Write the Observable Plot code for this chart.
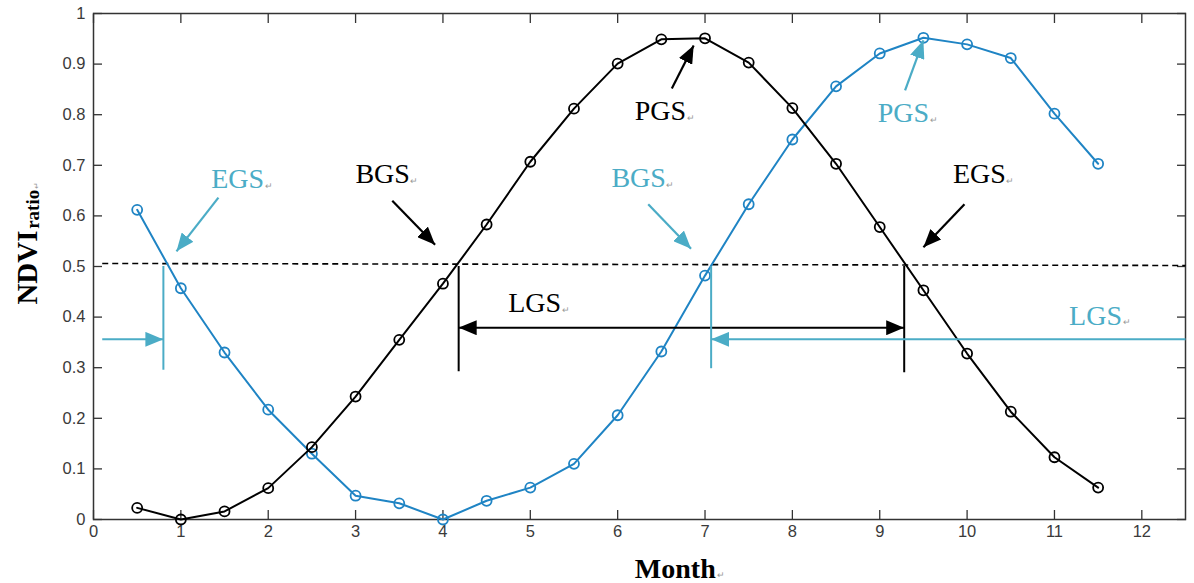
<!DOCTYPE html>
<html>
<head>
<meta charset="utf-8">
<script src="https://cdn.jsdelivr.net/npm/d3@7"></script>
<script src="https://cdn.jsdelivr.net/npm/@observablehq/plot@0.6"></script>
<style>
  html, body { margin: 0; padding: 0; background: #fff; }
  #chart svg { display: block; }
</style>
</head>
<body>
<div id="chart"></div>
<script>
// ---- data ----
const months = [0.5, 1, 1.5, 2, 2.5, 3, 3.5, 4, 4.5, 5, 5.5, 6, 6.5, 7, 7.5, 8, 8.5, 9, 9.5, 10, 10.5, 11, 11.5];
const ndviBlack = [0.023, 0.0, 0.016, 0.062, 0.143, 0.243, 0.355, 0.466, 0.583, 0.707, 0.812, 0.901, 0.949, 0.951, 0.903, 0.813, 0.703, 0.578, 0.453, 0.328, 0.213, 0.123, 0.063];
const ndviBlue  = [0.612, 0.457, 0.330, 0.217, 0.130, 0.047, 0.032, 0.0, 0.037, 0.063, 0.110, 0.206, 0.332, 0.482, 0.623, 0.751, 0.856, 0.921, 0.952, 0.939, 0.912, 0.802, 0.703];

const xTicks = [0, 1, 2, 3, 4, 5, 6, 7, 8, 9, 10, 11, 12];
const yTicks = [0, 0.1, 0.2, 0.3, 0.4, 0.5, 0.6, 0.7, 0.8, 0.9, 1];
const yTickLabels = ["0", "0.1", "0.2", "0.3", "0.4", "0.5", "0.6", "0.7", "0.8", "0.9", "1"];

// threshold (dashed) line
const threshold = [{x1: 0.1, y1: 0.506, x2: 12.5, y2: 0.502}];

// annotation labels (group: "a" = black curve, "b" = blue curve)
const labelText  = ["EGS", "BGS", "PGS", "LGS", "BGS", "EGS", "PGS", "LGS"];
const labelGroup = ["b",   "a",   "a",   "a",   "b",   "a",   "b",   "b"];
const labelX     = [1.65,  3.31,  6.49,  5.05,  6.24,  10.14, 9.27,  11.47];
const labelY     = [0.672, 0.682, 0.808, 0.427, 0.674, 0.682, 0.804, 0.403];

// pointer arrows (from -> to)
const arrowGroup = ["b",  "a",  "b",  "a",  "a",  "b"];
const arrowX1    = [1.43, 3.42, 6.35, 9.97, 6.62, 9.29];
const arrowY1    = [0.636, 0.630, 0.623, 0.623, 0.852, 0.848];
const arrowX2    = [0.95, 3.91, 6.84, 9.50, 6.87, 9.50];
const arrowY2    = [0.530, 0.543, 0.535, 0.538, 0.937, 0.947];

// growing-season markers (vertical lines)
const markGroup = ["b",  "a",  "b",  "a"];
const markX     = [0.80, 4.18, 7.07, 9.28];
const markTop   = [0.50, 0.50, 0.50, 0.50];
const markBot   = [0.295, 0.292, 0.298, 0.290];

// length-of-season arrows
const lgsGroup = ["a",  "b",  "b"];
const lgsX1    = [4.18, 12.5, 0.1];
const lgsX2    = [9.28, 7.07, 0.80];
const lgsY     = [0.379, 0.356, 0.356];
const lgsBoth  = [true, false, false];

// ---- build tables ----
const seriesA = months.map((m, i) => ({month: m, v: ndviBlack[i]}));
const seriesB = months.map((m, i) => ({month: m, v: ndviBlue[i]}));
const labels = labelText.map((t, i) => ({t, g: labelGroup[i], x: labelX[i], y: labelY[i]}));
const arrows = arrowGroup.map((g, i) => ({g, x1: arrowX1[i], y1: arrowY1[i], x2: arrowX2[i], y2: arrowY2[i]}));
const marks = markGroup.map((g, i) => ({g, x: markX[i], y1: markTop[i], y2: markBot[i]}));
const lgs = lgsGroup.map((g, i) => ({g, x1: lgsX1[i], x2: lgsX2[i], y: lgsY[i], both: lgsBoth[i]}));

const BLACK = "#000000";
const SERIES_BLUE = "#1f84c4";
const NOTE_BLUE = "#4bacc6";
const colorOf = g => (g === "a" ? BLACK : NOTE_BLUE);

// filled triangular arrow heads
function head(orient) {
  return (color) => {
    const ns = "http://www.w3.org/2000/svg";
    const m = document.createElementNS(ns, "marker");
    m.setAttribute("viewBox", "-18 -7.5 18 15");
    m.setAttribute("refX", "0");
    m.setAttribute("refY", "0");
    m.setAttribute("markerWidth", "18");
    m.setAttribute("markerHeight", "15");
    m.setAttribute("markerUnits", "userSpaceOnUse");
    m.setAttribute("orient", orient);
    const p = document.createElementNS(ns, "path");
    p.setAttribute("d", "M-18,-7.5L0,0L-18,7.5Z");
    p.setAttribute("fill", color);
    p.setAttribute("stroke", "none");
    m.appendChild(p);
    return m;
  };
}
const headEnd = head("auto");
const headStart = head("auto-start-reverse");

const serif = "'Liberation Serif', 'Times New Roman', serif";
const sans = "'Liberation Sans', Arial, sans-serif";

const groupMarks = [];
for (const g of ["a", "b"]) {
  const c = colorOf(g);
  groupMarks.push(
    Plot.ruleX(marks.filter(d => d.g === g), {x: "x", y1: "y1", y2: "y2", stroke: c, strokeWidth: 2}),
    Plot.link(arrows.filter(d => d.g === g), {x1: "x1", y1: "y1", x2: "x2", y2: "y2", stroke: c, strokeWidth: 2.2, markerEnd: headEnd}),
    Plot.link(lgs.filter(d => d.g === g && d.both), {x1: "x1", y1: "y", x2: "x2", y2: "y", stroke: c, strokeWidth: 2, markerStart: headStart, markerEnd: headEnd}),
    Plot.link(lgs.filter(d => d.g === g && !d.both), {x1: "x1", y1: "y", x2: "x2", y2: "y", stroke: c, strokeWidth: 2, markerEnd: headEnd}),
    Plot.text(labels.filter(d => d.g === g), {x: "x", y: "y", text: "t", fill: c, fontFamily: serif, fontSize: 28}),
    Plot.text(labels.filter(d => d.g === g), {x: "x", y: "y", text: () => "\u21B5", fill: "#999", fontSize: 9, textAnchor: "start", dx: 27, dy: 7})
  );
}

const chart = Plot.plot({
  width: 1194,
  height: 583,
  marginLeft: 93,
  marginRight: 9,
  marginTop: 13,
  marginBottom: 64,
  x: {domain: [0, 12.5]},
  y: {domain: [0, 1]},
  style: {background: "#fff", overflow: "visible"},
  marks: [
    // axes: inward ticks on all four sides, labels bottom/left
    Plot.axisX(xTicks, {anchor: "bottom", tickSize: -9, tickFormat: () => "", stroke: "#333", strokeWidth: 1.3, label: null}),
    Plot.axisX(xTicks, {anchor: "top", tickSize: -9, tickFormat: () => "", stroke: "#333", strokeWidth: 1.3, label: null}),
    Plot.axisY(yTicks, {anchor: "left", tickSize: -9, tickFormat: () => "", stroke: "#333", strokeWidth: 1.3, label: null}),
    Plot.axisY(yTicks, {anchor: "right", tickSize: -9, tickFormat: () => "", stroke: "#333", strokeWidth: 1.3, label: null}),
    Plot.axisX(xTicks, {anchor: "bottom", tickSize: 0, tickPadding: 6, tickFormat: d => String(d), fontFamily: sans, fontSize: 16.5, fill: "#3a3a3a", label: null}),
    Plot.axisY(yTicks, {anchor: "left", tickSize: 0, tickPadding: 8, tickFormat: d => yTickLabels[yTicks.indexOf(d)], fontFamily: sans, fontSize: 16.5, fill: "#3a3a3a", label: null}),
    Plot.frame({stroke: "#333", strokeWidth: 1.5}),

    // threshold dashed line
    Plot.link(threshold, {x1: "x1", y1: "y1", x2: "x2", y2: "y2", stroke: "#000", strokeWidth: 1.6, strokeDasharray: "6,4"}),

    // series
    Plot.line(seriesB, {x: "month", y: "v", stroke: SERIES_BLUE, strokeWidth: 2}),
    Plot.dot(seriesB, {x: "month", y: "v", r: 5, stroke: SERIES_BLUE, strokeWidth: 1.8, fill: "none"}),
    Plot.line(seriesA, {x: "month", y: "v", stroke: BLACK, strokeWidth: 2}),
    Plot.dot(seriesA, {x: "month", y: "v", r: 5, stroke: BLACK, strokeWidth: 1.8, fill: "none"}),

    ...groupMarks,

    // axis titles
    Plot.text([{t: "Month", x: 6.66}], {x: "x", text: "t", frameAnchor: "bottom", lineAnchor: "middle", textAnchor: "middle", dy: 50, fontFamily: serif, fontWeight: "bold", fontSize: 28, fill: "#000"}),
    Plot.text([{t: "\u21B5", x: 6.66}], {x: "x", text: "t", frameAnchor: "bottom", lineAnchor: "middle", dy: 56, dx: 42, fontSize: 9, fill: "#999", textAnchor: "start"}),
    Plot.text([{t: "NDVI", y: 0.498}], {y: "y", text: "t", frameAnchor: "left", lineAnchor: "middle", textAnchor: "middle", dx: -66, rotate: -90, fontFamily: serif, fontWeight: "bold", fontSize: 29, fill: "#000"}),
    Plot.text([{t: "ratio", y: 0.613}], {y: "y", text: "t", frameAnchor: "left", lineAnchor: "middle", textAnchor: "middle", dx: -61, rotate: -90, fontFamily: serif, fontWeight: "bold", fontSize: 19, fill: "#000"}),
    Plot.text([{t: "\u21B5", y: 0.66}], {y: "y", text: "t", frameAnchor: "left", lineAnchor: "middle", textAnchor: "middle", dx: -57, rotate: -90, fontSize: 8, fill: "#999"})
  ]
});

document.getElementById("chart").appendChild(chart);
</script>
</body>
</html>
